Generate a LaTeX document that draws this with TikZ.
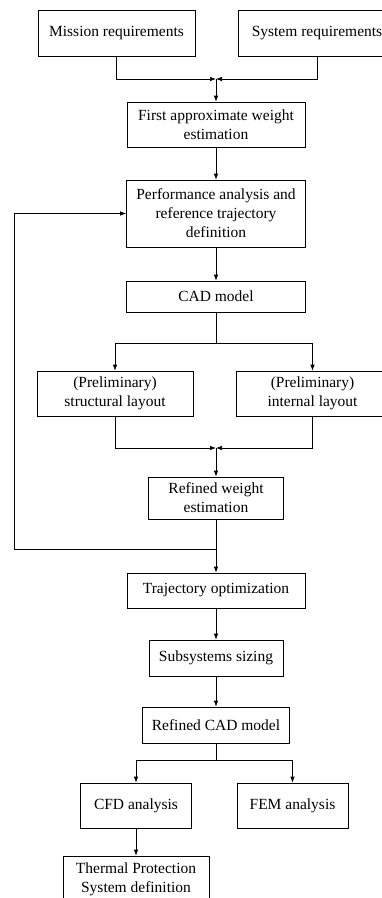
\documentclass[tikz,border=0pt]{standalone}
\usepackage{fontspec}
\setmainfont{Liberation Serif}
\usetikzlibrary{arrows.meta}
\begin{document}
\begin{tikzpicture}[x=1pt,y=-1pt,
  box/.style={draw, line width=0.7pt, inner sep=0pt, align=center, font=\fontsize{15.5}{19}\selectfont},
  arr/.style={-{Latex[length=6pt,width=4.5pt]}, line width=0.7pt},
  ln/.style={line width=0.7pt}]
\useasboundingbox (0,0) rectangle (382,898);
\clip (0,0) rectangle (382,898);
% nodes
\node[box, minimum width=157pt, minimum height=46pt] (miss) at (116.5,33) {Mission requirements};
\node[box, minimum width=158pt, minimum height=46pt] (sys) at (317,33) {System requirements};
\node[box, minimum width=178pt, minimum height=45pt] (first) at (216,124.5) {First approximate weight\\estimation};
\node[box, minimum width=179pt, minimum height=67pt] (perf) at (216,213.5) {Performance analysis and\\reference trajectory\\definition};
\node[box, minimum width=179pt, minimum height=31pt] (cad) at (216,296.5) {CAD model};
\node[box, minimum width=156pt, minimum height=45pt] (struct) at (115,393.5) {(Preliminary)\\structural layout};
\node[box, minimum width=152pt, minimum height=45pt] (int) at (312.5,393.5) {(Preliminary)\\internal layout};
\node[box, minimum width=135pt, minimum height=42pt] (rw) at (216,498) {Refined weight\\estimation};
\node[box, minimum width=178pt, minimum height=35pt] (traj) at (216,590.5) {Trajectory optimization};
\node[box, minimum width=134pt, minimum height=36pt] (sub) at (216,658) {Subsystems sizing};
\node[box, minimum width=147pt, minimum height=36pt] (rcad) at (216,725) {Refined CAD model};
\node[box, minimum width=111pt, minimum height=45pt] (cfd) at (136,805.5) {CFD analysis};
\node[box, minimum width=111pt, minimum height=45pt] (fem) at (292.5,805.5) {FEM analysis};
\node[box, minimum width=146pt, minimum height=46pt] (tps) at (136,879) {Thermal Protection\\System definition};
% junction points
\coordinate (j1) at (216,79);
\coordinate (s1) at (216,343);
\coordinate (j2) at (216,448);
\coordinate (fb) at (216,549);
\coordinate (fbl) at (14,549);
\coordinate (s2) at (216,760);
% connectors
\draw[arr] (miss.south) |- (j1);
\draw[arr] (sys.south) |- (j1);
\draw[arr] (j1) -- (first.north);
\draw[arr] (first.south) -- (perf.north);
\draw[arr] (perf.south) -- (cad.north);
\draw[ln] (cad.south) -- (s1);
\draw[arr] (s1) -| (struct.north);
\draw[arr] (s1) -| (int.north);
\draw[arr] (struct.south) |- (j2);
\draw[arr] (int.south) |- (j2);
\draw[arr] (j2) -- (rw.north);
\draw[arr] (rw.south) -- (traj.north);
\draw[arr] (fb) -- (fbl) |- (perf.west);
\draw[arr] (traj.south) -- (sub.north);
\draw[arr] (sub.south) -- (rcad.north);
\draw[ln] (rcad.south) -- (s2);
\draw[arr] (s2) -| (cfd.north);
\draw[arr] (s2) -| (fem.north);
\draw[arr] (cfd.south) -- (tps.north);
\end{tikzpicture}
\end{document}
